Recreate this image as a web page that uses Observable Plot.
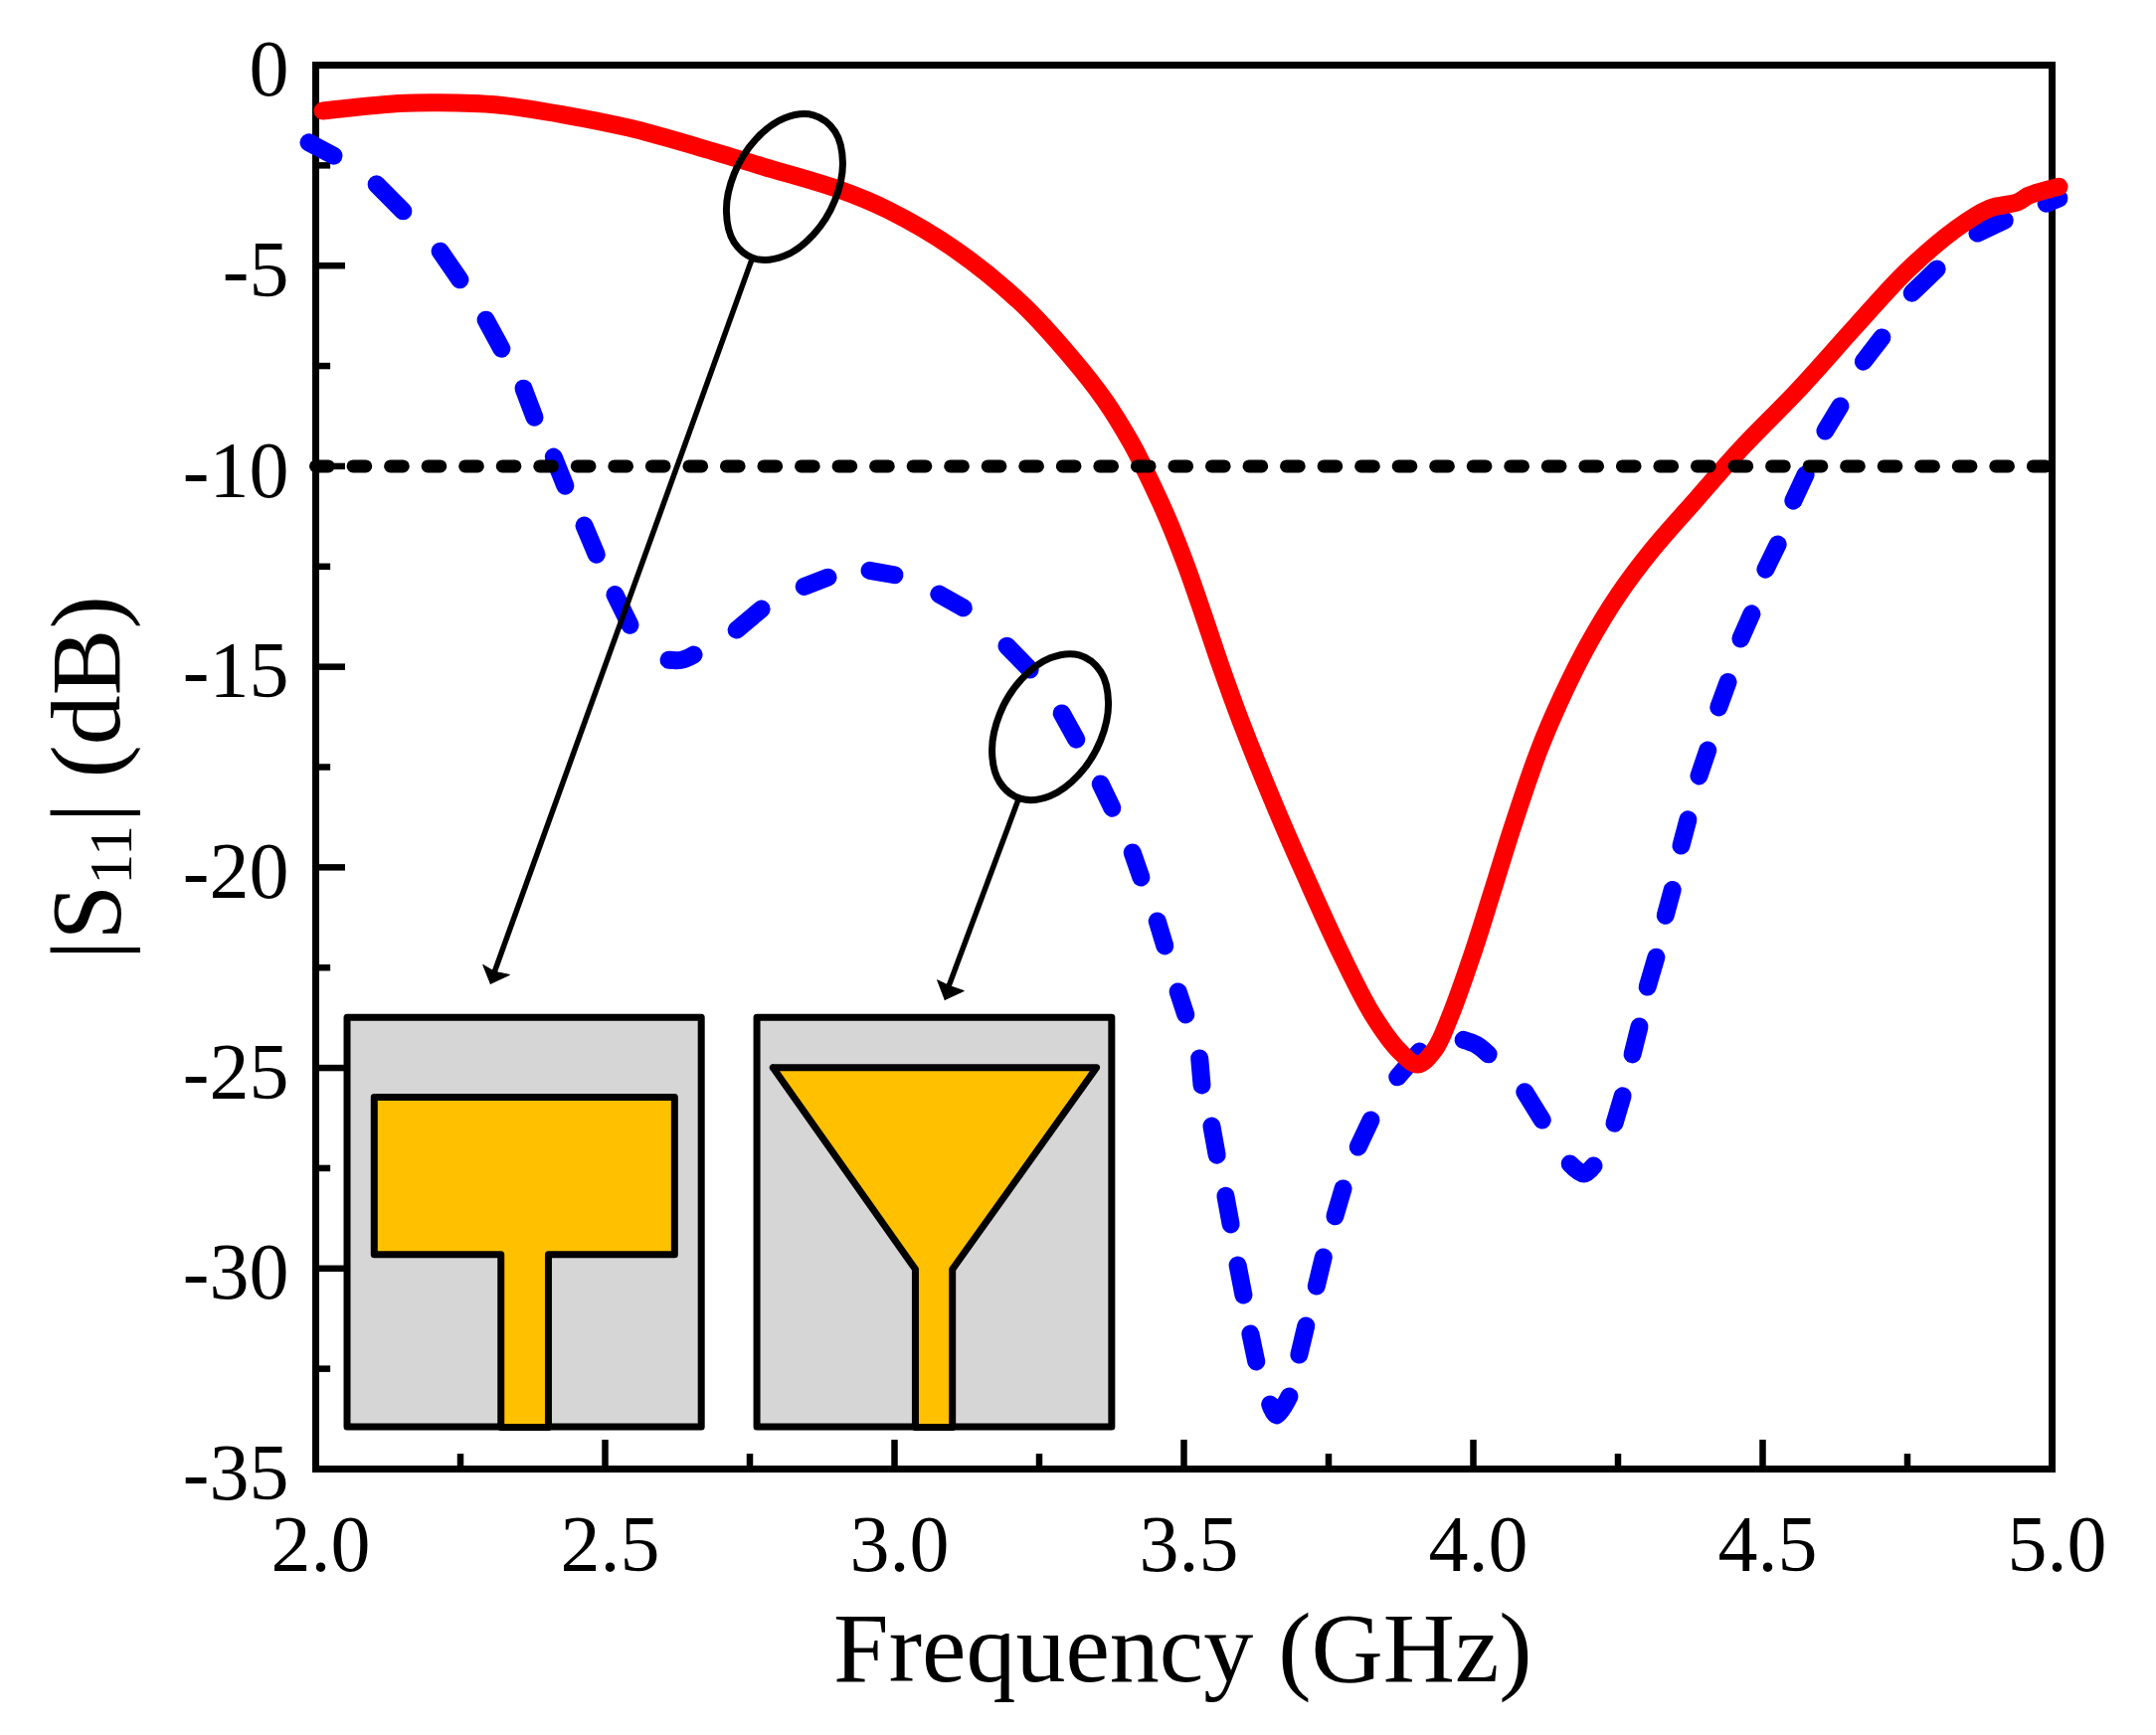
<!DOCTYPE html>
<html>
<head>
<meta charset="utf-8">
<script src="https://cdn.jsdelivr.net/npm/d3@7"></script>
<script src="https://cdn.jsdelivr.net/npm/@observablehq/plot@0.6"></script>
<style>html,body{margin:0;padding:0;background:#fff}svg{display:block}</style>
</head>
<body>
<div id="chart"></div>
<script>
const xMajor = [2, 2.5, 3, 3.5, 4, 4.5, 5];
const xMinor = [2.25, 2.75, 3.25, 3.75, 4.25, 4.75];
const yMajor = [0, -5, -10, -15, -20, -25, -30, -35];
const yMinor = [-2.5, -7.5, -12.5, -17.5, -22.5, -27.5, -32.5];
const threshold = [[2, -10], [5, -10]];

// T-shaped patch response (solid red)
const redCurve = [
  [2.012,-1.14],[2.143,-0.955],[2.211,-0.935],[2.314,-0.99],[2.43,-1.24],[2.543,-1.57],[2.658,-2.03],
  [2.773,-2.53],[2.904,-3.1],[2.99,-3.62],[3.105,-4.6],[3.22,-5.95],[3.306,-7.3],[3.363,-8.35],
  [3.409,-9.42],[3.428,-9.95],[3.471,-11.28],[3.505,-12.52],[3.534,-13.72],[3.564,-15.0],[3.598,-16.35],
  [3.655,-18.39],[3.711,-20.25],[3.77,-22.11],[3.826,-23.67],[3.873,-24.59],[3.904,-24.91],[3.933,-24.55],
  [3.959,-23.75],[3.998,-22.19],[4.033,-20.6],[4.067,-19.03],[4.113,-17.1],[4.153,-15.75],[4.199,-14.43],
  [4.251,-13.2],[4.308,-12.1],[4.388,-10.78],[4.462,-9.57],[4.56,-8.12],[4.663,-6.47],[4.749,-5.13],
  [4.835,-4.07],[4.892,-3.57],[4.94,-3.42],[4.96,-3.25],[5.012,-3.03]
];

// Tapered patch response (blue), one list per visible dash
const blueDashes = [
  [[1.988,-1.93],[2.031,-2.26]],
  [[2.105,-2.97],[2.151,-3.64]],
  [[2.215,-4.64],[2.249,-5.35]],
  [[2.294,-6.35],[2.321,-7.07]],
  [[2.359,-8.06],[2.378,-8.78]],
  [[2.411,-9.77],[2.431,-10.49]],
  [[2.464,-11.48],[2.485,-12.2]],
  [[2.517,-13.2],[2.543,-13.96]],
  [[2.61,-14.83],[2.632,-14.83],[2.653,-14.7]],
  [[2.727,-14.08],[2.77,-13.56]],
  [[2.844,-13.0],[2.885,-12.77]],
  [[2.957,-12.6],[3.0,-12.71]],
  [[3.077,-13.19],[3.119,-13.53]],
  [[3.194,-14.48],[3.234,-15.07]],
  [[3.289,-16.16],[3.314,-16.81]],
  [[3.356,-17.92],[3.376,-18.52]],
  [[3.411,-19.63],[3.426,-20.25]],
  [[3.454,-21.34],[3.467,-21.96]],
  [[3.49,-23.1],[3.503,-23.67]],
  [[3.527,-24.76],[3.531,-25.43]],
  [[3.548,-26.45],[3.557,-27.17]],
  [[3.572,-28.19],[3.581,-28.9]],
  [[3.593,-29.92],[3.603,-30.66]],
  [[3.615,-31.63],[3.625,-32.32]],
  [[3.649,-33.39],[3.66,-33.66],[3.682,-33.19]],
  [[3.699,-32.15],[3.711,-31.43]],
  [[3.729,-30.44],[3.741,-29.72]],
  [[3.761,-28.7],[3.775,-28.01]],
  [[3.801,-26.97],[3.823,-26.3]],
  [[3.869,-25.23],[3.907,-24.59]],
  [[3.983,-24.3],[4.005,-24.42],[4.026,-24.66]],
  [[4.089,-25.6],[4.119,-26.3]],
  [[4.167,-27.39],[4.191,-27.64],[4.208,-27.44]],
  [[4.244,-26.38],[4.258,-25.7]],
  [[4.275,-24.66],[4.287,-23.97]],
  [[4.301,-22.98],[4.316,-22.24]],
  [[4.332,-21.2],[4.344,-20.56]],
  [[4.359,-19.46],[4.371,-18.81]],
  [[4.39,-17.72],[4.405,-17.08]],
  [[4.424,-16.01],[4.44,-15.38]],
  [[4.462,-14.3],[4.481,-13.68]],
  [[4.505,-12.57],[4.526,-11.95]],
  [[4.553,-10.86],[4.574,-10.21]],
  [[4.608,-9.12],[4.634,-8.5]],
  [[4.674,-7.39],[4.706,-6.79]],
  [[4.758,-5.68],[4.801,-5.08]],
  [[4.871,-4.19],[4.918,-3.87]],
  [[4.99,-3.45],[5.012,-3.32]]
];

// Annotations, in axis units
const ellipseA = [[2.9105,-2.43],[2.897,-1.652],[2.860,-1.246],[2.810,-1.319],[2.760,-1.853],[2.723,-2.704],[2.7095,-3.644],[2.723,-4.422],[2.760,-4.828],[2.810,-4.755],[2.860,-4.221],[2.897,-3.37]];
const ellipseB = [[3.3695,-15.893],[3.356,-15.115],[3.319,-14.709],[3.269,-14.782],[3.219,-15.316],[3.182,-16.167],[3.1685,-17.107],[3.182,-17.885],[3.219,-18.291],[3.269,-18.218],[3.319,-17.684],[3.356,-16.833]];
const arrowShafts = [{x1:2.753,y1:-4.86,x2:2.309,y2:-22.6},{x1:3.215,y1:-18.27,x2:3.094,y2:-22.95}];
const arrowHeadA = [[2.302,-22.9],[2.289,-22.43],[2.309,-22.6],[2.335,-22.68],[2.302,-22.9]];
const arrowHeadB = [[3.087,-23.3],[3.074,-22.81],[3.094,-22.95],[3.12,-23.08],[3.087,-23.3]];

// Inset drawings, in axis units
const insetBoxes = [{x1:2.055,x2:2.667,y1:-33.96,y2:-23.75},{x1:2.763,x2:3.376,y1:-33.96,y2:-23.75}];
const patchT = [[2.101,-25.73],[2.62,-25.73],[2.62,-29.65],[2.402,-29.65],[2.402,-33.96],[2.32,-33.96],[2.32,-29.65],[2.101,-29.65],[2.101,-25.73]];
const patchFunnel = [[2.79,-24.99],[3.349,-24.99],[3.10,-30.02],[3.10,-33.96],[3.036,-33.96],[3.036,-30.02],[2.79,-24.99]];

const blueRows = blueDashes.flatMap((d, i) => d.map(p => ({x: p[0], y: p[1], dash: i})));
const px = d => d[0], py = d => d[1];

const chart = Plot.plot({
  width: 2168,
  height: 1745,
  marginLeft: 317,
  marginRight: 105,
  marginTop: 65,
  marginBottom: 268,
  style: {fontFamily: "'Liberation Serif', serif", color: "black", background: "white", overflow: "visible"},
  x: {domain: [2, 5]},
  y: {domain: [-35, 0]},
  marks: [
    Plot.frame({stroke: "black", strokeWidth: 7}),
    Plot.ruleX(xMajor.slice(1, -1), {y1: -35, y2: -34.28, stroke: "black", strokeWidth: 6.5}),
    Plot.ruleX(xMinor, {y1: -35, y2: -34.63, stroke: "black", strokeWidth: 6.5}),
    Plot.ruleY(yMajor.slice(1, -1), {x1: 2, x2: 2.0515, stroke: "black", strokeWidth: 6.5}),
    Plot.ruleY(yMinor, {x1: 2, x2: 2.026, stroke: "black", strokeWidth: 6.5}),
    Plot.axisX({ticks: xMajor, tickSize: 0, tickPadding: 46, dx: 5, fontSize: 80, label: null, tickFormat: d => d.toFixed(1)}),
    Plot.axisY({ticks: yMajor, tickSize: 0, tickPadding: 27, dy: 5, fontSize: 80, label: null, tickFormat: d => String(d)}),
    Plot.line(blueRows, {x: "x", y: "y", z: "dash", stroke: "#0000FF", strokeWidth: 18, strokeLinecap: "round", strokeLinejoin: "round", curve: "catmull-rom"}),
    Plot.line(redCurve, {x: px, y: py, stroke: "#FF0000", strokeWidth: 18, strokeLinecap: "round", strokeLinejoin: "round", curve: "catmull-rom"}),
    Plot.line(threshold, {x: px, y: py, stroke: "black", strokeWidth: 13, strokeLinecap: "round", strokeDasharray: "12.7,24.84"}),
    Plot.line(ellipseA, {x: px, y: py, stroke: "black", strokeWidth: 7, curve: "catmull-rom-closed"}),
    Plot.line(ellipseB, {x: px, y: py, stroke: "black", strokeWidth: 7, curve: "catmull-rom-closed"}),
    Plot.link(arrowShafts, {x1: "x1", y1: "y1", x2: "x2", y2: "y2", stroke: "black", strokeWidth: 5.5}),
    Plot.line(arrowHeadA, {x: px, y: py, fill: "black", stroke: "black", strokeWidth: 1}),
    Plot.line(arrowHeadB, {x: px, y: py, fill: "black", stroke: "black", strokeWidth: 1}),
    Plot.rect(insetBoxes, {x1: "x1", x2: "x2", y1: "y1", y2: "y2", fill: "#D6D6D6", stroke: "black", strokeWidth: 7, strokeLinejoin: "round"}),
    Plot.line(patchT, {x: px, y: py, fill: "#FFC000", stroke: "black", strokeWidth: 7, strokeLinejoin: "round"}),
    Plot.line(patchFunnel, {x: px, y: py, fill: "#FFC000", stroke: "black", strokeWidth: 7, strokeLinejoin: "round"}),
    Plot.text(["Frequency (GHz)"], {x: 3.498, y: -39.49, text: d => d, fontSize: 100, fill: "black"}),
    Plot.text(["|S"], {x: 1.6065, y: -22.31, text: d => d, rotate: -90, textAnchor: "start", fontSize: 100, fill: "black"}),
    Plot.text(["11"], {x: 1.6478, y: -20.43, text: d => d, rotate: -90, textAnchor: "start", fontSize: 62, fill: "black"}),
    Plot.text(["| (dB)"], {x: 1.6065, y: -18.89, text: d => d, rotate: -90, textAnchor: "start", fontSize: 100, fill: "black"})
  ]
});
document.getElementById("chart").appendChild(chart);
</script>
</body>
</html>
